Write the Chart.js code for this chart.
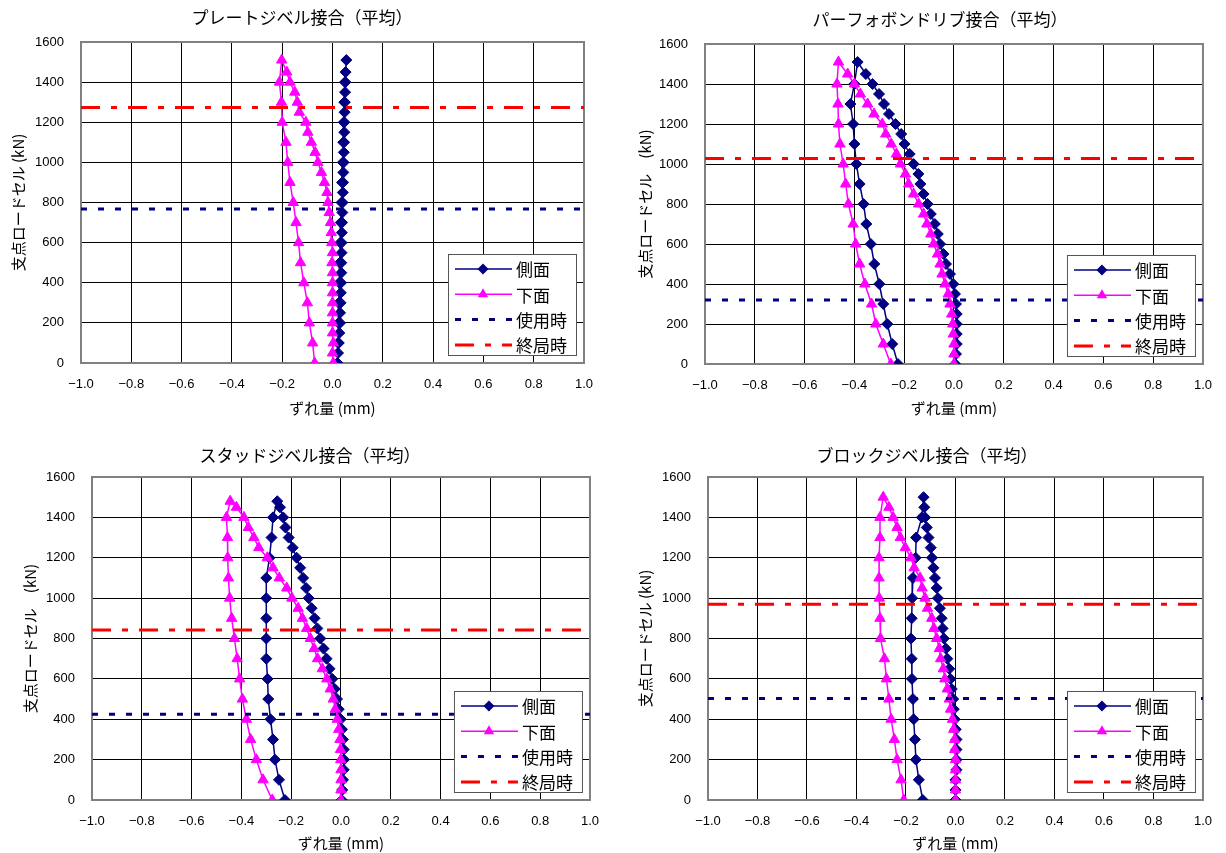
<!DOCTYPE html>
<html>
<head>
<meta charset="utf-8">
<script src="https://cdn.jsdelivr.net/npm/chart.js@4.4.0/dist/chart.umd.min.js"></script>
<style>
  html, body { margin: 0; padding: 0; background: #fff; }
  #wrap { position: relative; width: 1226px; height: 853px; }
  .cell { position: absolute; }
</style>
</head>
<body>
<div id="wrap">
  <div class="cell" style="left:0;top:0"><canvas id="c0" width="613" height="426"></canvas></div>
  <div class="cell" style="left:613px;top:0"><canvas id="c1" width="613" height="426"></canvas></div>
  <div class="cell" style="left:0;top:426px"><canvas id="c2" width="613" height="427"></canvas></div>
  <div class="cell" style="left:613px;top:426px"><canvas id="c3" width="613" height="427"></canvas></div>
</div>
<script>
// --- データ---
// 載荷側は 50kN 刻み、最大荷重を経て除荷側は 100kN 刻み
var loadUp = [0, 50, 100, 150, 200, 250, 300, 350, 400, 450, 500, 550, 600, 650, 700,
  750, 800, 850, 900, 950, 1000, 1050, 1100, 1150, 1200, 1250, 1300, 1350, 1400, 1450];
var loadDown = [1400, 1300, 1200, 1100, 1000, 900, 800, 700, 600, 500, 400, 300, 200, 100, 0];

var chartTitles = ['プレートジベル接合（平均）', 'パーフォボンドリブ接合（平均）',
  'スタッドジベル接合（平均）', 'ブロックジベル接合（平均）'];
var yTitles = ['支点ロードセル (kN)', '支点ロードセル　(kN)', '支点ロードセル　(kN)', '支点ロードセル (kN)'];
var seriesNames = ['側面', '下面', '使用時', '終局時'];
var peakLoad = [1510, 1510, 1480, 1500];
var serviceLoad = [767, 320, 425, 503];   // 使用時
var ultimateLoad = [1274, 1027, 842, 970]; // 終局時

// 側面 (載荷 31点 / 除荷 15点)
var sideUp = [
  [0.020, 0.022, 0.025, 0.027, 0.030, 0.030, 0.032, 0.033, 0.034, 0.035, 0.035, 0.036, 0.036, 0.037, 0.038,
   0.039, 0.040, 0.041, 0.042, 0.043, 0.044, 0.045, 0.046, 0.047, 0.047, 0.048, 0.049, 0.050, 0.051, 0.052, 0.055],
  [0.005, 0.008, 0.011, 0.011, 0.011, 0.011, 0.008, 0.004, -0.003, -0.016, -0.032, -0.042, -0.056, -0.065, -0.077,
   -0.093, -0.106, -0.122, -0.135, -0.143, -0.162, -0.178, -0.199, -0.212, -0.235, -0.261, -0.281, -0.301, -0.327, -0.354, -0.387],
  [0.003, 0.005, 0.008, 0.011, 0.012, 0.011, 0.008, 0.004, -0.001, -0.009, -0.016, -0.025, -0.035, -0.046, -0.058,
   -0.070, -0.083, -0.095, -0.106, -0.118, -0.130, -0.140, -0.152, -0.164, -0.178, -0.194, -0.210, -0.223, -0.232, -0.245, -0.256],
  [0.000, 0.000, 0.000, 0.004, 0.004, 0.004, 0.004, 0.001, -0.003, -0.007, -0.009, -0.015, -0.020, -0.025, -0.033,
   -0.039, -0.047, -0.052, -0.056, -0.063, -0.071, -0.076, -0.083, -0.089, -0.095, -0.100, -0.109, -0.116, -0.123, -0.126, -0.129]
];
var sideDown = [
  [0.050, 0.047, 0.045, 0.043, 0.041, 0.038, 0.036, 0.033, 0.031, 0.029, 0.027, 0.025, 0.024, 0.022, 0.020],
  [-0.400, -0.416, -0.405, -0.400, -0.392, -0.379, -0.363, -0.352, -0.334, -0.320, -0.300, -0.284, -0.268, -0.248, -0.225],
  [-0.273, -0.279, -0.287, -0.300, -0.300, -0.300, -0.300, -0.300, -0.295, -0.292, -0.283, -0.273, -0.265, -0.249, -0.225],
  [-0.136, -0.159, -0.161, -0.172, -0.175, -0.177, -0.180, -0.177, -0.176, -0.172, -0.169, -0.164, -0.160, -0.148, -0.132]
];
// 下面
var bottomUp = [
  [0.003, 0.000, 0.003, 0.000, 0.000, 0.000, 0.000, 0.000, 0.000, 0.000, -0.002, 0.000, -0.003, -0.005, -0.008,
   -0.013, -0.018, -0.022, -0.032, -0.044, -0.058, -0.069, -0.084, -0.098, -0.106, -0.132, -0.140, -0.150, -0.169, -0.182, -0.202],
  [0.000, 0.000, 0.000, -0.003, -0.005, -0.009, -0.016, -0.023, -0.036, -0.048, -0.056, -0.066, -0.082, -0.093, -0.109,
   -0.122, -0.142, -0.162, -0.182, -0.195, -0.215, -0.231, -0.252, -0.274, -0.288, -0.321, -0.347, -0.376, -0.400, -0.427, -0.464],
  [0.000, 0.000, 0.000, 0.000, -0.001, -0.002, -0.004, -0.009, -0.015, -0.023, -0.031, -0.043, -0.057, -0.075, -0.094,
   -0.108, -0.123, -0.138, -0.155, -0.172, -0.197, -0.218, -0.248, -0.273, -0.296, -0.330, -0.350, -0.372, -0.390, -0.420, -0.445],
  [0.000, 0.000, 0.000, 0.000, 0.000, -0.003, -0.003, -0.007, -0.012, -0.020, -0.025, -0.033, -0.043, -0.049, -0.060,
   -0.065, -0.076, -0.087, -0.096, -0.113, -0.123, -0.135, -0.143, -0.167, -0.180, -0.203, -0.223, -0.236, -0.252, -0.269, -0.292]
];
var bottomDown = [
  [-0.211, -0.203, -0.200, -0.185, -0.178, -0.169, -0.156, -0.145, -0.135, -0.127, -0.114, -0.100, -0.092, -0.079, -0.071],
  [-0.470, -0.466, -0.464, -0.458, -0.445, -0.435, -0.424, -0.405, -0.395, -0.379, -0.358, -0.331, -0.314, -0.284, -0.254],
  [-0.460, -0.456, -0.455, -0.452, -0.447, -0.439, -0.428, -0.417, -0.407, -0.396, -0.380, -0.363, -0.340, -0.313, -0.276],
  [-0.305, -0.305, -0.309, -0.309, -0.308, -0.305, -0.303, -0.287, -0.279, -0.269, -0.260, -0.247, -0.236, -0.220, -0.209]
];

// --- レイアウト（各キャンバス内の位置）---
var panels = [
  { yAxisW: 81, top: 42, right: 29, xAxisH: 63, yTitlePad: 9,  xTitlePad: 9, tx: 302, ty: 18 },
  { yAxisW: 92, top: 44, right: 17, xAxisH: 62, yTitlePad: 23, xTitlePad: 9, tx: 327, ty: 20 },
  { yAxisW: 92, top: 51, right: 21, xAxisH: 53, yTitlePad: 21, xTitlePad: 1, tx: 310, ty: 30 },
  { yAxisW: 95, top: 51, right: 17, xAxisH: 53, yTitlePad: 23, xTitlePad: 1, tx: 314, ty: 30 }
];

var NAVY = '#000080', MAGENTA = '#ff00ff', RED = '#ff0000';
var FONT = '"Liberation Sans", "Noto Sans CJK JP", sans-serif';
var JFONT = '"Noto Sans CJK JP", sans-serif';

function loop(upX, downX, peak) {
  var pts = [];
  for (var i = 0; i < loadUp.length; i++) pts.push({ x: upX[i], y: loadUp[i] });
  pts.push({ x: upX[upX.length - 1], y: peak });
  for (var j = 0; j < loadDown.length; j++) pts.push({ x: downX[j], y: loadDown[j] });
  return pts;
}

// 枠・タイトル・凡例
var panelDeco = {
  id: 'panelDeco',
  beforeDatasetsDraw: function (chart) {
    var ctx = chart.ctx, a = chart.chartArea;
    ctx.save();
    ctx.strokeStyle = '#808080';
    ctx.lineWidth = 2;
    ctx.strokeRect(a.left, a.top, a.right - a.left, a.bottom - a.top);
    ctx.restore();
  },
  afterDraw: function (chart, args, opts) {
    var ctx = chart.ctx, a = chart.chartArea;
    ctx.save();
    ctx.fillStyle = '#000';
    ctx.font = '17px ' + JFONT;
    ctx.textAlign = 'center';
    ctx.textBaseline = 'middle';
    ctx.fillText(opts.text, opts.x, opts.y);

    // 凡例
    var bw = 128, bh = 101;
    var bx = a.right - 8 - bw, by = a.bottom - 8 - bh;
    ctx.fillStyle = '#fff';
    ctx.fillRect(bx, by, bw, bh);
    ctx.strokeStyle = '#555';
    ctx.lineWidth = 1;
    ctx.strokeRect(bx + 0.5, by + 0.5, bw, bh);
    ctx.font = '17px ' + JFONT;
    ctx.textAlign = 'left';
    chart.data.datasets.forEach(function (ds, i) {
      var cy = by + 15 + i * 25.3;
      ctx.save();
      ctx.strokeStyle = ds.borderColor;
      ctx.lineWidth = ds.borderWidth;
      ctx.setLineDash(ds.borderDash || []);
      ctx.beginPath();
      ctx.moveTo(bx + 7, cy);
      ctx.lineTo(bx + 64, cy);
      ctx.stroke();
      ctx.restore();
      if (ds.pointRadius > 0) {
        ctx.fillStyle = ds.pointBackgroundColor;
        ctx.strokeStyle = ds.pointBorderColor;
        Chart.helpers.drawPoint(ctx, { pointStyle: ds.pointStyle, radius: ds.pointRadius, borderWidth: 0, rotation: 0 }, bx + 35, cy);
      }
      ctx.fillStyle = '#000';
      ctx.fillText(ds.label, bx + 68, cy + 1);
    });
    ctx.restore();
  }
};

function fmtX(v) {
  var s = (Math.round(v * 10) / 10).toFixed(1);
  return s.replace('-', '\u2212');
}

for (let k = 0; k < 4; k++) {
  var p = panels[k];
  var ctx = document.getElementById('c' + k).getContext('2d');
  new Chart(ctx, {
    type: 'scatter',
    data: {
      datasets: [{
        label: seriesNames[0],
        data: loop(sideUp[k], sideDown[k], peakLoad[k]),
        showLine: true, borderColor: NAVY, borderWidth: 1.5,
        pointStyle: 'rectRot', pointRadius: 5.5, pointBackgroundColor: NAVY, pointBorderColor: NAVY,
        pointBorderWidth: 1, order: 4
      }, {
        label: seriesNames[1],
        data: loop(bottomUp[k], bottomDown[k], peakLoad[k]),
        showLine: true, borderColor: MAGENTA, borderWidth: 1.5,
        pointStyle: 'triangle', pointRadius: 6, pointBackgroundColor: MAGENTA, pointBorderColor: MAGENTA,
        pointBorderWidth: 1, order: 3
      }, {
        label: seriesNames[2],
        data: [{ x: -1, y: serviceLoad[k] }, { x: 1, y: serviceLoad[k] }],
        showLine: true, borderColor: NAVY, borderWidth: 3, borderDash: [6, 11],
        pointRadius: 0, order: 2
      }, {
        label: seriesNames[3],
        data: [{ x: -1, y: ultimateLoad[k] }, { x: 1, y: ultimateLoad[k] }],
        showLine: true, borderColor: RED, borderWidth: 3, borderDash: [19, 11, 6, 11],
        pointRadius: 0, order: 1
      }]
    },
    options: {
      responsive: false,
      animation: false,
      layout: { padding: { left: 0, top: p.top, right: p.right, bottom: 0 } },
      plugins: {
        legend: { display: false },
        tooltip: { enabled: false },
        title: { display: false },
        panelDeco: { text: chartTitles[k], x: p.tx, y: p.ty }
      },
      scales: {
        x: {
          type: 'linear', min: -1, max: 1,
          grid: { color: '#000', lineWidth: 1, drawTicks: false },
          border: { display: false },
          ticks: { stepSize: 0.2, padding: 14, color: '#000', maxRotation: 0, autoSkip: false,
            font: { family: FONT, size: 13 }, callback: fmtX },
          title: { display: true, text: 'ずれ量 (mm)', color: '#000',
            font: { family: JFONT, size: 15 }, padding: { top: 0, bottom: p.xTitlePad } },
          afterFit: function (s) { s.height = panels[k].xAxisH; }
        },
        y: {
          min: 0, max: 1600,
          grid: { color: '#000', lineWidth: 1, drawTicks: false },
          border: { display: false },
          ticks: { stepSize: 200, padding: 17, color: '#000', font: { family: FONT, size: 13 },
            callback: function (v) { return String(v); } },
          title: { display: true, text: yTitles[k], color: '#000',
            font: { family: JFONT, size: 15 }, padding: { top: p.yTitlePad, bottom: 0 } },
          afterFit: function (s) { s.width = panels[k].yAxisW; }
        }
      }
    },
    plugins: [panelDeco]
  });
}
</script>
</body>
</html>
